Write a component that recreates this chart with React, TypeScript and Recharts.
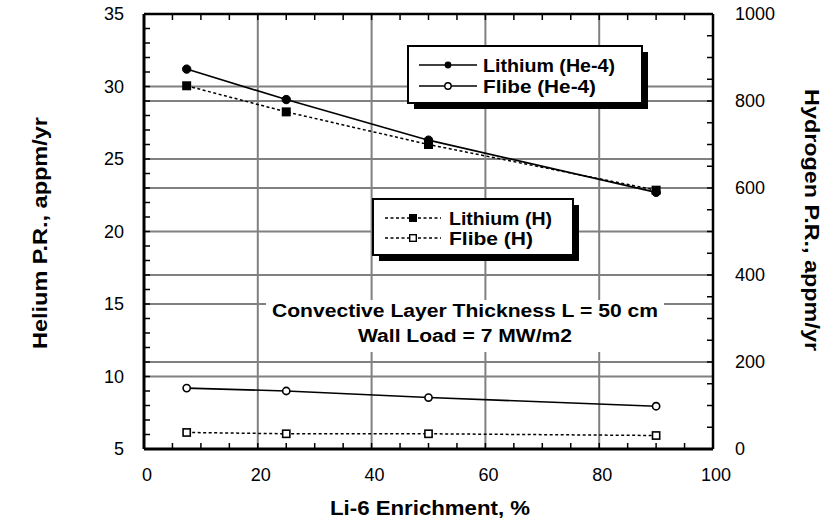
import { LineChart, Line, XAxis, YAxis, ReferenceLine } from 'recharts';

// Li-6 enrichment (%) of each computed case
const enrichment = [7.5, 25, 50, 90];
// helium production rate, left axis (appm/yr)
const lithiumHe4 = [31.2, 29.1, 26.3, 22.7];
const flibeHe4 = [9.2, 9.0, 8.55, 7.95];
// hydrogen production rate, right axis (appm/yr)
const lithiumH = [835, 775, 700, 595];
const flibeH = [38, 35, 35, 31];

const xLabels = [0, 20, 40, 60, 80, 100];
const leftLabels = [5, 10, 15, 20, 25, 30, 35];
const rightLabels = [0, 200, 400, 600, 800, 1000];
const xGrid = [20, 40, 60, 80];
const leftGrid = [10, 15, 20, 25, 30];
const rightGrid = [200, 400, 600, 800];

const xTicks = Array.from({ length: 21 }, (_, i) => i * 5);
const leftTicks = Array.from({ length: 31 }, (_, i) => 5 + i);
const rightTicks = Array.from({ length: 21 }, (_, i) => i * 50);

const data = enrichment.map((x, i) => ({
  x,
  lithiumHe4: lithiumHe4[i],
  flibeHe4: flibeHe4[i],
  lithiumH: lithiumH[i],
  flibeH: flibeH[i],
}));

const W = 831;
const H = 527;
const PLOT = { left: 144, top: 14, right: 713, bottom: 449 };
const FONT = '"Liberation Sans", Arial, Helvetica, sans-serif';
const GRID = '#808080';

const LeftTick = (p: any) => {
  const v = p.payload.value;
  return (
    <g>
      <line x1={PLOT.left} x2={PLOT.left + 6} y1={p.y} y2={p.y} stroke="#000" strokeWidth={1.5} />
      {leftLabels.includes(v) && (
        <text x={PLOT.left - 20} y={p.y} textAnchor="end" dominantBaseline="central" fontSize={18} fontFamily={FONT} fill="#000">
          {v}
        </text>
      )}
    </g>
  );
};

const RightTick = (p: any) => {
  const v = p.payload.value;
  return (
    <g>
      <line x1={PLOT.right - 6} x2={PLOT.right} y1={p.y} y2={p.y} stroke="#000" strokeWidth={1.5} />
      {rightLabels.includes(v) && (
        <text x={PLOT.right + 22} y={p.y} textAnchor="start" dominantBaseline="central" fontSize={18} fontFamily={FONT} fill="#000">
          {v}
        </text>
      )}
    </g>
  );
};

const BottomTick = (p: any) => {
  const v = p.payload.value;
  return (
    <g>
      <line x1={p.x} x2={p.x} y1={PLOT.bottom - 6} y2={PLOT.bottom} stroke="#000" strokeWidth={1.5} />
      {xLabels.includes(v) && (
        <text x={p.x + 3} y={PLOT.bottom + 26} textAnchor="middle" dominantBaseline="central" fontSize={18} fontFamily={FONT} fill="#000">
          {v}
        </text>
      )}
    </g>
  );
};

const TopTick = (p: any) => (
  <line x1={p.x} x2={p.x} y1={PLOT.top} y2={PLOT.top + 6} stroke="#000" strokeWidth={1.5} />
);

const FilledCircle = (p: any) => <circle key={p.index} cx={p.cx} cy={p.cy} r={4.2} fill="#000" stroke="#000" />;
const OpenCircle = (p: any) => <circle key={p.index} cx={p.cx} cy={p.cy} r={3.6} fill="#fff" stroke="#000" strokeWidth={1.6} />;
const FilledSquare = (p: any) => <rect key={p.index} x={p.cx - 4.5} y={p.cy - 4.5} width={9} height={9} fill="#000" />;
const OpenSquare = (p: any) => (
  <rect key={p.index} x={p.cx - 3.6} y={p.cy - 3.6} width={7.2} height={7.2} fill="#fff" stroke="#000" strokeWidth={1.6} />
);

function LegendRow({ x1, x2, y, dashed, marker, label, textX, textLen }: any) {
  const mx = (x1 + x2) / 2;
  return (
    <g>
      <line x1={x1} x2={x2} y1={y} y2={y} stroke="#000" strokeWidth={1.5} strokeDasharray={dashed ? '3 2.5' : undefined} />
      {marker === 'fc' && <circle cx={mx} cy={y} r={3.4} fill="#000" />}
      {marker === 'oc' && <circle cx={mx} cy={y} r={3.2} fill="#fff" stroke="#000" strokeWidth={1.4} />}
      {marker === 'fs' && <rect x={mx - 4} y={y - 4} width={8} height={8} fill="#000" />}
      {marker === 'os' && <rect x={mx - 3.3} y={y - 3.3} width={6.6} height={6.6} fill="#fff" stroke="#000" strokeWidth={1.4} />}
      <text x={textX} y={y} dominantBaseline="central" fontSize={19} fontWeight="bold" fontFamily={FONT} fill="#000" textLength={textLen} lengthAdjust="spacingAndGlyphs">
        {label}
      </text>
    </g>
  );
}

export default function App() {
  return (
    <div style={{ position: 'absolute', left: 0, top: 0, width: W, height: H, background: '#fff' }}>
      <LineChart width={W} height={H} data={data} margin={{ top: 4, right: 58, bottom: 38, left: 84 }}>
        <XAxis
          xAxisId="bottom"
          dataKey="x"
          type="number"
          domain={[0, 100]}
          ticks={xTicks}
          interval={0}
          height={40}
          tick={BottomTick}
          tickLine={false}
          axisLine={{ stroke: '#000', strokeWidth: 3 }}
        />
        <XAxis
          xAxisId="top"
          orientation="top"
          dataKey="x"
          type="number"
          domain={[0, 100]}
          ticks={xTicks}
          interval={0}
          height={10}
          tick={TopTick}
          tickLine={false}
          axisLine={{ stroke: '#000', strokeWidth: 2.5 }}
        />
        <YAxis
          yAxisId="left"
          type="number"
          domain={[5, 35]}
          ticks={leftTicks}
          interval={0}
          width={60}
          tick={LeftTick}
          tickLine={false}
          axisLine={{ stroke: '#000', strokeWidth: 3 }}
        />
        <YAxis
          yAxisId="right"
          orientation="right"
          type="number"
          domain={[0, 1000]}
          ticks={rightTicks}
          interval={0}
          width={60}
          tick={RightTick}
          tickLine={false}
          axisLine={{ stroke: '#000', strokeWidth: 2.5 }}
        />
        {xGrid.map((v) => (
          <ReferenceLine key={'x' + v} xAxisId="bottom" yAxisId="left" x={v} stroke={GRID} strokeWidth={2} />
        ))}
        {leftGrid.map((v) => (
          <ReferenceLine key={'l' + v} xAxisId="bottom" yAxisId="left" y={v} stroke={GRID} strokeWidth={2} />
        ))}
        {rightGrid.map((v) => (
          <ReferenceLine key={'r' + v} xAxisId="bottom" yAxisId="right" y={v} stroke={GRID} strokeWidth={2} />
        ))}
        <Line xAxisId="bottom" yAxisId="right" dataKey="lithiumH" stroke="#000" strokeWidth={1.5} strokeDasharray="3 2.5" dot={FilledSquare} isAnimationActive={false} />
        <Line xAxisId="bottom" yAxisId="right" dataKey="flibeH" stroke="#000" strokeWidth={1.5} strokeDasharray="3 2.5" dot={OpenSquare} isAnimationActive={false} />
        <Line xAxisId="bottom" yAxisId="left" dataKey="lithiumHe4" stroke="#000" strokeWidth={1.6} dot={FilledCircle} isAnimationActive={false} />
        <Line xAxisId="bottom" yAxisId="left" dataKey="flibeHe4" stroke="#000" strokeWidth={1.6} dot={OpenCircle} isAnimationActive={false} />
      </LineChart>

      <svg width={W} height={H} style={{ position: 'absolute', left: 0, top: 0, pointerEvents: 'none' }}>
        {/* axis titles */}
        <text x={40} y={233} transform="rotate(-90 40 233)" textAnchor="middle" dominantBaseline="central" fontSize={20} fontWeight="bold" fontFamily={FONT} textLength={232} lengthAdjust="spacingAndGlyphs">
          Helium P.R., appm/yr
        </text>
        <text x={812} y={220} transform="rotate(90 812 220)" textAnchor="middle" dominantBaseline="central" fontSize={20} fontWeight="bold" fontFamily={FONT} textLength={262} lengthAdjust="spacingAndGlyphs">
          Hydrogen P.R., appm/yr
        </text>
        <text x={430} y={508} textAnchor="middle" dominantBaseline="central" fontSize={20} fontWeight="bold" fontFamily={FONT} textLength={200} lengthAdjust="spacingAndGlyphs">
          Li-6 Enrichment, %
        </text>

        {/* helium legend */}
        <rect x={414} y={52} width={234} height={57} fill="#000" />
        <rect x={408} y={46} width={234} height={57} fill="#fff" stroke="#000" strokeWidth={2} />
        <LegendRow x1={419} x2={477} y={65} marker="fc" label="Lithium (He-4)" textX={483} textLen={132} />
        <LegendRow x1={419} x2={477} y={86} marker="oc" label="Flibe (He-4)" textX={483} textLen={113} />

        {/* hydrogen legend */}
        <rect x={379} y={205} width={200} height={56} fill="#000" />
        <rect x={373} y={199} width={200} height={56} fill="#fff" stroke="#000" strokeWidth={2} />
        <LegendRow x1={385} x2={441} y={218} dashed marker="fs" label="Lithium (H)" textX={449} textLen={103} />
        <LegendRow x1={385} x2={441} y={238} dashed marker="os" label="Flibe (H)" textX={449} textLen={84} />

        {/* case note */}
        <rect x={266} y={300} width={398} height={52} fill="#fff" />
        <text x={465} y={317} textAnchor="middle" fontSize={18} fontWeight="bold" fontFamily={FONT} textLength={386} lengthAdjust="spacingAndGlyphs">
          Convective Layer Thickness L = 50 cm
        </text>
        <text x={465} y={342} textAnchor="middle" fontSize={18} fontWeight="bold" fontFamily={FONT} textLength={214} lengthAdjust="spacingAndGlyphs">
          Wall Load = 7 MW/m2
        </text>
      </svg>
    </div>
  );
}
